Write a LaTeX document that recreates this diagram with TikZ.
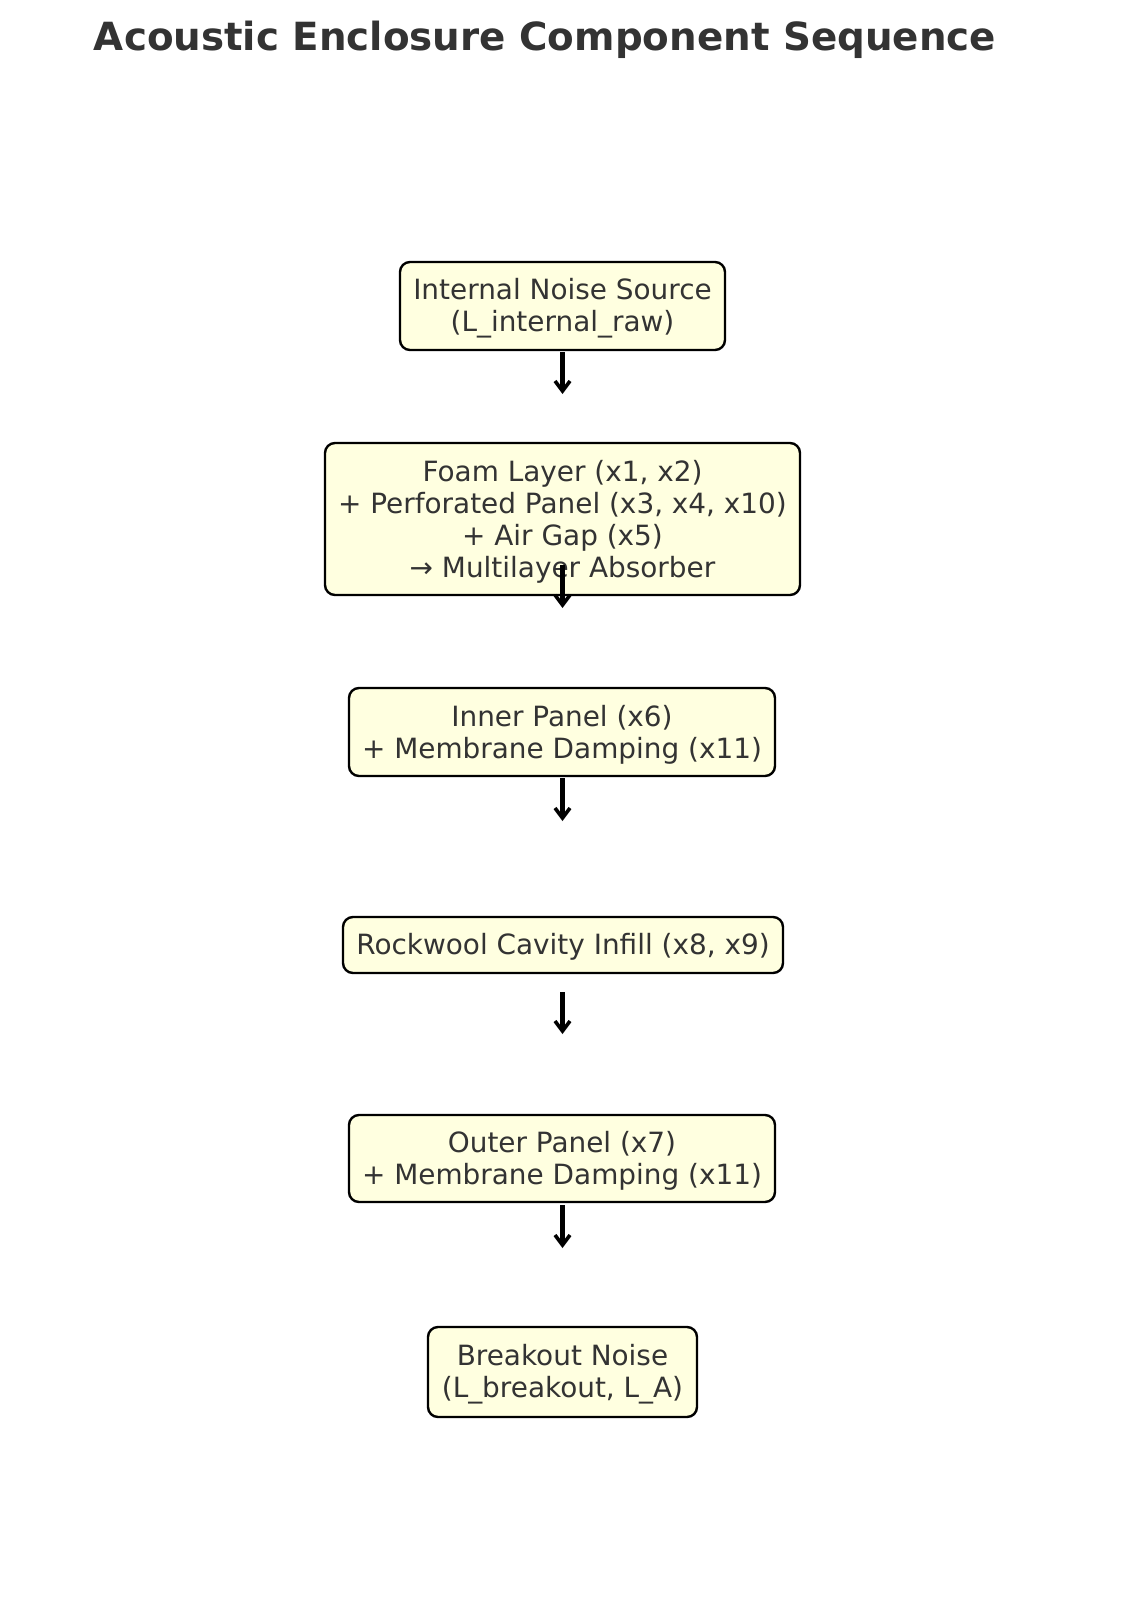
\documentclass[tikz,border=0pt]{standalone}
\usepackage{fontspec}
\setmainfont{DejaVu Sans}
\usetikzlibrary{arrows.meta}
\definecolor{txt}{HTML}{333333}
\definecolor{boxfill}{HTML}{FFFFE0}
\tikzset{
  comp/.style={draw=black, line width=2.4bp, fill=boxfill, rounded corners=10bp,
    text=txt, align=center, inner sep=0pt,
    font=\fontsize{27.9bp}{32bp}\selectfont},
  lbl/.style={comp, draw=none, fill=none},
  flow/.style={line width=4.2bp, -{Straight Barb[length=10bp,width=15bp,line width=3.6bp]}}
}
\begin{document}
\begin{tikzpicture}[x=1bp,y=-1bp]
\useasboundingbox (0,0) rectangle (1124,1605);
\node[text=txt, anchor=base, inner sep=0pt, font=\fontsize{38.8bp}{44bp}\selectfont\bfseries] (title) at (545,51) {Acoustic Enclosure Component Sequence};
\node[comp, minimum width=325bp, minimum height=88bp] (b1) at (562.5,306) {};
\node[lbl, yshift=-2.5bp] (b1t) at (b1) {Internal Noise Source\\(L\_internal\_raw)};
\node[comp, minimum width=475bp, minimum height=152bp] (b2) at (562.5,519) {};
\node[lbl, yshift=-2.5bp] (b2t) at (b2) {Foam Layer (x1, x2)\\+ Perforated Panel (x3, x4, x10)\\+ Air Gap (x5)\\→ Multilayer Absorber};
\node[comp, minimum width=426bp, minimum height=88bp] (b3) at (562,732) {};
\node[lbl, yshift=-2.5bp] (b3t) at (b3) {Inner Panel (x6)\\+ Membrane Damping (x11)};
\node[comp, minimum width=440bp, minimum height=56bp] (b4) at (563,945) {};
\node[lbl, yshift=-1.5bp] (b4t) at (b4) {Rockwool Cavity Infill (x8, x9)};
\node[comp, minimum width=426bp, minimum height=87bp] (b5) at (562,1158.5) {};
\node[lbl, yshift=-2.5bp] (b5t) at (b5) {Outer Panel (x7)\\+ Membrane Damping (x11)};
\node[comp, minimum width=269bp, minimum height=90bp] (b6) at (562.5,1372) {};
\node[lbl, yshift=-2.5bp] (b6t) at (b6) {Breakout Noise\\(L\_breakout, L\_A)};
\coordinate (a1s) at (562.5,352); \coordinate (a1e) at (562.5,394);
\coordinate (a2s) at (562.5,565); \coordinate (a2e) at (562.5,608);
\coordinate (a3s) at (562.5,778); \coordinate (a3e) at (562.5,821);
\coordinate (a4s) at (562.5,992); \coordinate (a4e) at (562.5,1034);
\coordinate (a5s) at (562.5,1205); \coordinate (a5e) at (562.5,1248);
\foreach \i in {1,...,5} \draw[flow] (a\i s) -- (a\i e);
\end{tikzpicture}
\end{document}
